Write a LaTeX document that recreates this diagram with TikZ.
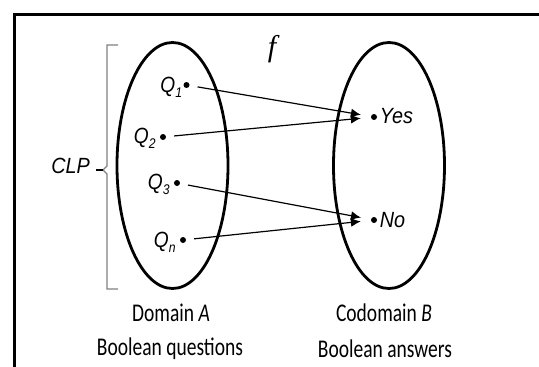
\documentclass[tikz,border=0pt]{standalone}
\usepackage{fontspec}
\setmainfont{Liberation Sans}
\newfontfamily\carl{Carlito}
\newfontfamily\serifit{Liberation Serif}
\usetikzlibrary{shapes.geometric,arrows.meta,calc}
\newcommand{\Qsub}[1]{\scalebox{0.87}[1]{\textit{Q}\raisebox{-0.4ex}{\fontsize{14}{15}\selectfont\itshape #1}}}
\newcommand{\narrowtext}[1]{\scalebox{0.9}[1]{#1}}
\begin{document}
\begin{tikzpicture}[x=1pt,y=-1pt,
  setell/.style={draw=black,line width=2.8pt,ellipse,minimum width=111pt,minimum height=246pt,inner sep=0pt},
  dotnode/.style={circle,fill=black,inner sep=0pt,minimum size=6pt},
  qlabel/.style={font=\fontsize{22}{24}\selectfont\itshape,inner sep=0pt,anchor=base east},
  maparrow/.style={line width=1.2pt,-{Latex[length=10pt,width=9pt]},shorten <=8pt,shorten >=10pt},
  caption/.style={font=\carl\fontsize{25.5}{27}\selectfont,inner sep=0pt}]
\useasboundingbox (0,0) rectangle (539,367);
\draw[line width=3pt] (14.5,367) -- (14.5,14.5) -- (539,14.5);
% sets
\node[setell] (A) at (172.5,165.5) {};
\node[setell] (B) at (389,165.5) {};
% domain points
\node[dotnode] (q1) at (186.5,85) {};
\node[dotnode] (q2) at (163,137) {};
\node[dotnode] (q3) at (177,183) {};
\node[dotnode] (qn) at (183,240) {};
\node[qlabel] (lq1) at ($(q1.west)+(-1,7.5)$) {\Qsub{1}};
\node[qlabel] (lq2) at ($(q2.west)+(-4,6.5)$) {\Qsub{2}};
\node[qlabel] (lq3) at ($(q3.west)+(-4,6.5)$) {\Qsub{3}};
\node[qlabel] (lqn) at ($(qn.west)+(-4,7.5)$) {\Qsub{n}};
% codomain points
\node[dotnode] (yes) at (374,117) {};
\node[dotnode] (no) at (374,220) {};
\node[qlabel,anchor=base west] (lyes) at ($(yes.east)+(2.5,6)$) {\narrowtext{Yes}};
\node[qlabel,anchor=base west] (lno) at ($(no.east)+(2.5,7)$) {\narrowtext{No}};
% mapping
\draw[maparrow] (q1) -- (yes);
\draw[maparrow] (q2) -- (yes);
\draw[maparrow] (q3) -- (no);
\draw[maparrow] (qn) -- (no);
% f
\node[font=\serifit\itshape\fontsize{30}{32}\selectfont,inner sep=0pt] (f) at (272,49) {f};
% bracket
\draw[black!50,line width=1.4pt] (118,45) -- (107,45) -- (107,166) -- (103,170) coordinate (tip) -- (107,174) -- (107,289) -- (118,289);
\node[font=\fontsize{22}{24}\selectfont\itshape,anchor=base east,inner sep=0pt] (clp) at (90,173) {\narrowtext{CLP}};
\coordinate (dashstart) at (96,170);
\draw[line width=1.2pt] (dashstart) -- (tip);
% captions
\node[caption] (da) at (171,313) {\scalebox{0.765}[1]{Domain \textit{A}}};
\node[caption] (bq) at (170,349) {\scalebox{0.765}[1]{Boolean questions}};
\node[caption] (cb) at (384,313) {\scalebox{0.765}[1]{Codomain \textit{B}}};
\node[caption] (ba) at (385,349) {\scalebox{0.765}[1]{Boolean answers}};
\end{tikzpicture}
\end{document}
